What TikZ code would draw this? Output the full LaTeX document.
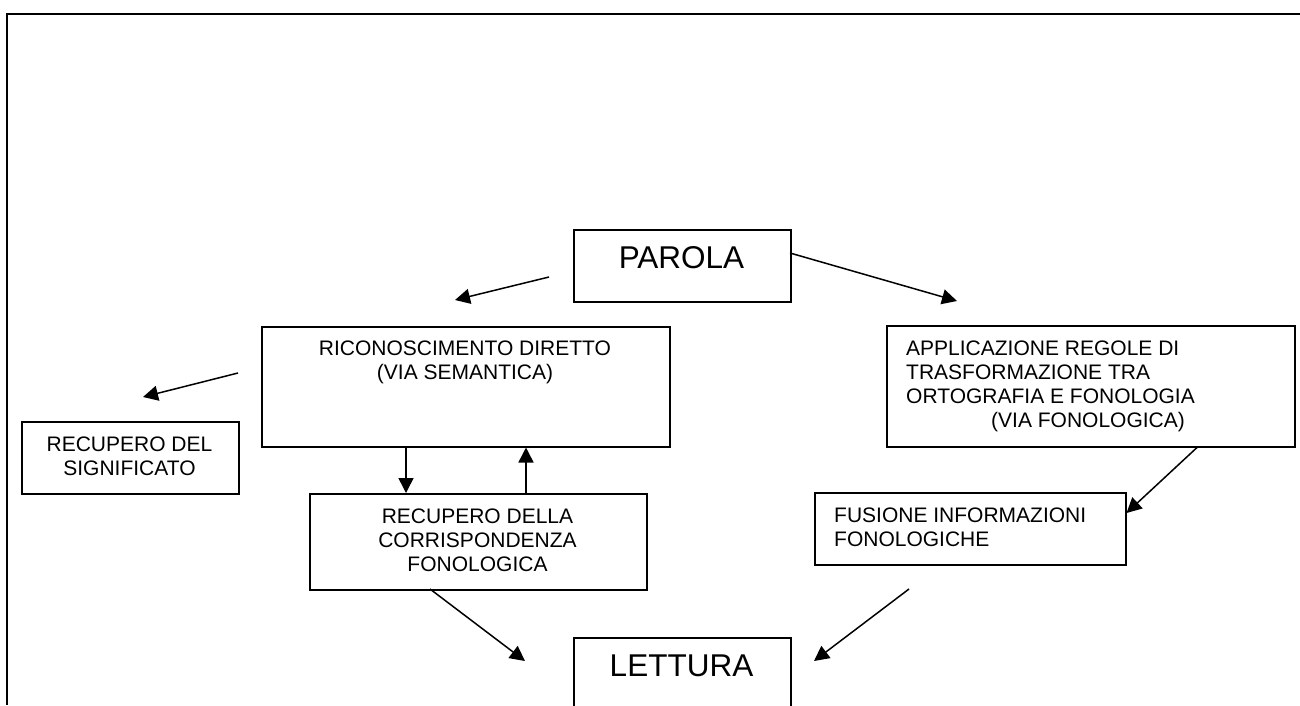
\documentclass[tikz,border=0pt]{standalone}
\usepackage{fontspec}
\setmainfont{Liberation Sans}
\usetikzlibrary{arrows.meta}
\begin{document}
\begin{tikzpicture}[x=1pt,y=-1pt,
  box/.style={draw=black, line width=1.5pt, inner sep=0pt, anchor=north west},
  lbl/.style={inner sep=0pt, font=\fontsize{21}{24}\selectfont},
  big/.style={inner sep=0pt, anchor=north, font=\fontsize{31.5}{36}\selectfont},
  conn/.style={line width=1.5pt, -{Triangle[length=15pt,width=15pt]}}]
\useasboundingbox (0,0) rectangle (1300,705);
% page frame
\draw[line width=2.2pt] (6,14) -- (1300,14);
\draw[line width=1.7pt] (7,13) -- (7,705);

% boxes
\node[box, minimum width=217pt, minimum height=72pt]  (parola)  at (573,229) {};
\node[box, minimum width=408pt, minimum height=120pt] (ric)     at (261,326) {};
\node[box, minimum width=217pt, minimum height=72pt]  (sig)     at (21,421) {};
\node[box, minimum width=337pt, minimum height=96pt]  (recdel)  at (309,493) {};
\node[box, minimum width=408pt, minimum height=121pt] (appl)    at (886,325) {};
\node[box, minimum width=311pt, minimum height=72pt]  (fus)     at (814,492) {};
\node[box, minimum width=217pt, minimum height=80pt]  (lettura) at (573,637) {};

% texts
\node[big] (parolaT) at (681.5,246.5) {PAROLA};
\node[big] (letturaT) at (681.5,654.5) {LETTURA};
\node[lbl, anchor=north, align=center] (ricT) at (465,340.5)
  {RICONOSCIMENTO DIRETTO\\(VIA SEMANTICA)};
\node[lbl, anchor=north, align=center] (sigT) at (129.5,436.5)
  {RECUPERO DEL\\SIGNIFICATO};
\node[lbl, anchor=north, align=center] (recdelT) at (477.5,509)
  {RECUPERO DELLA\\CORRISPONDENZA\\FONOLOGICA};
\node[lbl, anchor=north west, align=left] (applT) at (906,340.5)
  {APPLICAZIONE REGOLE DI\\TRASFORMAZIONE TRA\\ORTOGRAFIA E FONOLOGIA\\\hspace*{85pt}(VIA FONOLOGICA)};
\node[lbl, anchor=north west, align=left] (fusT) at (834,507.5)
  {FUSIONE INFORMAZIONI\\FONOLOGICHE};

% connector end points
\coordinate (a1s) at (549,277);  \coordinate (a1e) at (455,300);
\coordinate (a2s) at (790,253);  \coordinate (a2e) at (957,301);
\coordinate (a3s) at (238,373);  \coordinate (a3e) at (143,397);
\coordinate (a7s) at (430,589);  \coordinate (a7e) at (525,661);
\coordinate (a8s) at (909,589);  \coordinate (a8e) at (814,661);

% connectors
\draw[conn] (a1s) -- (a1e);
\draw[conn] (a2s) -- (a2e);
\draw[conn] (a3s) -- (a3e);
\draw[conn] (ric.south -| 406,0) -- (recdel.north -| 406,0);
\draw[conn] (recdel.north -| 526,0) -- (ric.south -| 526,0);
\draw[conn] (appl.south -| 1197,0) -- (fus.east |- 0,513);
\draw[conn] (a7s) -- (a7e);
\draw[conn] (a8s) -- (a8e);
\end{tikzpicture}
\end{document}
